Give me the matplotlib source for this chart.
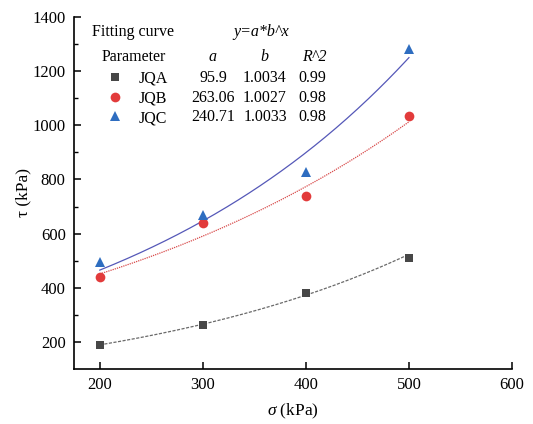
import numpy as np
import matplotlib
matplotlib.use("Agg")
import matplotlib.pyplot as plt
from matplotlib.lines import Line2D

plt.rcParams['font.family'] = ['Liberation Serif', 'DejaVu Serif']
plt.rcParams['mathtext.fontset'] = 'custom'
plt.rcParams['mathtext.rm'] = 'Liberation Serif'
plt.rcParams['mathtext.it'] = 'Liberation Serif:italic'

# data
sigma = [200, 300, 400, 500]
series = ['JQA', 'JQB', 'JQC']
jqa = [189, 262, 380, 511]
jqb = [440, 639, 739, 1035]
jqc = [495, 668, 828, 1281]
fit_a = [95.9, 263.06, 240.71]
fit_b = [1.0034, 1.0027, 1.0033]
fit_r2 = [0.99, 0.98, 0.98]
a_labels = ['95.9', '263.06', '240.71']
b_labels = ['1.0034', '1.0027', '1.0033']
r2_labels = ['0.99', '0.98', '0.98']
xticks = [200, 300, 400, 500, 600]
yticks = [200, 400, 600, 800, 1000, 1200, 1400]

colors = ['#474747', '#e23b3b', '#2e6dc0']
line_colors = ['#6a6a6a', '#d84a4a', '#5558b8']
line_styles = [(0, (2.5, 1.2)), (0, (1, 0.8)), '-']
markers = ['s', 'o', '^']
msizes = [6, 7, 7.5]

fig = plt.figure(figsize=(5.33, 4.24), dpi=100)
ax = fig.add_axes([74/533, 1-369/424, 438/533, 352/424])

values = [jqa, jqb, jqc]
xs = np.linspace(200, 500, 200)
for i in range(3):
    ax.plot(xs, fit_a[i] * fit_b[i] ** xs, color=line_colors[i],
            linestyle=line_styles[i], linewidth=0.9, zorder=2)
    ax.plot(sigma, values[i], linestyle='none', marker=markers[i],
            color=colors[i], markersize=msizes[i], markeredgewidth=0, zorder=3)

ax.set_xlim(175, 600)
ax.set_ylim(100, 1400)
ax.set_xticks(xticks)
ax.set_yticks(yticks)
ax.set_yticks(np.arange(300, 1400, 200), minor=True)
ax.tick_params(axis='both', which='major', direction='in', length=5, width=1.1,
               labelsize=12, pad=6)
ax.tick_params(axis='y', which='minor', direction='in', length=3, width=1.0)
for s in ['top', 'right']:
    ax.spines[s].set_visible(False)
for s in ['left', 'bottom']:
    ax.spines[s].set_linewidth(1.2)

ax.set_xlabel(r'$\sigma$ (kPa)', fontsize=12.5, labelpad=6)
ax.set_ylabel('τ (kPa)', fontsize=12.5, labelpad=1)

# fitting table
def fx(px):
    return (px - 74) / 438
def fy(py):
    return (369 - py) / 352

tr = ax.transAxes
fs = 11.5
ax.text(fx(92), fy(32), 'Fitting curve', transform=tr, fontsize=fs, va='center', ha='left')
ax.text(fx(261), fy(32), 'y=a*b^x', transform=tr, fontsize=fs, va='center', ha='center', style='italic')
ax.text(fx(102), fy(57), 'Parameter', transform=tr, fontsize=fs, va='center', ha='left')
ax.text(fx(213), fy(57), 'a', transform=tr, fontsize=fs, va='center', ha='center', style='italic')
ax.text(fx(264), fy(57), 'b', transform=tr, fontsize=fs, va='center', ha='center', style='italic')
ax.text(fx(314), fy(57), 'R^2', transform=tr, fontsize=fs, va='center', ha='center', style='italic')

rows_y = [78, 98, 117.5]
handles = [Line2D([], [], linestyle='none', marker=markers[i], color=colors[i],
                  markersize=msizes[i], markeredgewidth=0) for i in range(3)]
leg = ax.legend(handles, series, loc='upper left', bbox_to_anchor=(fx(105), fy(71)),
                frameon=False, fontsize=fs, handlelength=1.2, handletextpad=0.9,
                labelspacing=0.22, borderpad=0, borderaxespad=0)
for i in range(3):
    ax.text(fx(213), fy(rows_y[i]), a_labels[i], transform=tr, fontsize=fs, va='center', ha='center')
    ax.text(fx(265), fy(rows_y[i]), b_labels[i], transform=tr, fontsize=fs, va='center', ha='center')
    ax.text(fx(312), fy(rows_y[i]), r2_labels[i], transform=tr, fontsize=fs, va='center', ha='center')

fig.savefig('out.png', dpi=100)
